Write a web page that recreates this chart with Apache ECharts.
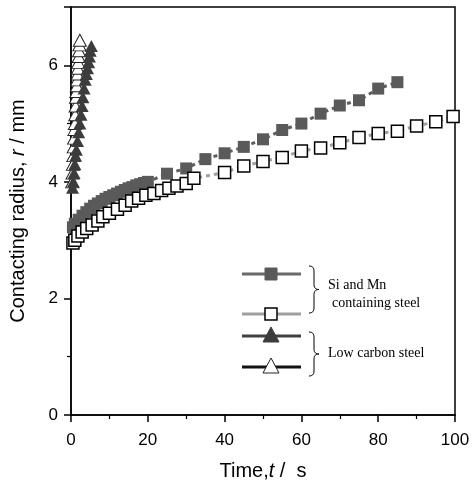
<!DOCTYPE html>
<html><head><meta charset="utf-8">
<script src="https://cdn.jsdelivr.net/npm/echarts@6/dist/echarts.min.js"></script>
<style>html,body{margin:0;padding:0;background:#fff}#c{width:473px;height:489px}</style>
</head><body><div id="c"></div>
<script>
// Si and Mn containing steel, filled squares
const siMnFilledT = [0.5,1,2,3,4,5,6,7,8,9,10,11,12,13,14,15,16,17,18,19,20,25,30,35,40,45,50,55,60,65,70,75,80,85];
const siMnFilledR = [3.22,3.28,3.35,3.42,3.48,3.54,3.59,3.63,3.67,3.71,3.74,3.77,3.80,3.83,3.86,3.89,3.91,3.94,3.96,3.98,4.00,4.14,4.23,4.39,4.49,4.60,4.73,4.89,5.00,5.17,5.31,5.40,5.60,5.71];
// Si and Mn containing steel, open squares
const siMnOpenT = [0.5,1,1.8,2.9,4.1,5.5,7,8.3,10,12.1,14.1,15.8,17.6,19.5,21.6,23.6,25.5,27.6,30,32,40,45,50,55,60,65,70,75,80,85,90,95,99.5];
const siMnOpenR = [2.95,3.00,3.07,3.14,3.20,3.26,3.33,3.40,3.46,3.53,3.60,3.67,3.72,3.77,3.80,3.85,3.89,3.93,3.97,4.06,4.16,4.27,4.35,4.42,4.53,4.58,4.67,4.76,4.83,4.87,4.96,5.03,5.12];
// Low carbon steel, filled triangles
const lowCFilledT = [0.4,0.6,0.8,1.0,1.2,1.4,1.7,2.0,2.3,2.6,2.9,3.1,3.4,3.7,4.0,4.3,4.6,4.8,5.0,5.3];
const lowCFilledR = [3.90,4.00,4.15,4.30,4.45,4.55,4.70,4.85,5.00,5.15,5.30,5.45,5.60,5.75,5.85,5.95,6.05,6.15,6.25,6.33];
// Low carbon steel, open triangles
const lowCOpenT = [0.3,0.4,0.5,0.6,0.7,0.8,0.9,1.0,1.1,1.2,1.3,1.4,1.5,1.6,1.7,1.8,1.9,2.0,2.1,2.2,2.3];
const lowCOpenR = [4.00,4.15,4.30,4.45,4.60,4.75,4.90,5.00,5.15,5.30,5.45,5.55,5.65,5.75,5.85,5.95,6.05,6.15,6.25,6.35,6.43];
const xTicks = [0,20,40,60,80,100];
const yTicks = [0,2,4,6];

const zip = (a,b)=>a.map((v,i)=>[v,b[i]]);
const chart = echarts.init(document.getElementById('c'));
const sans = 'Liberation Sans, Arial, sans-serif';
const serif = 'Liberation Serif, Times New Roman, serif';

function quad(p0,p1,p2,n){
  const out=[];
  for(let i=0;i<=n;i++){const t=i/n,u=1-t;
    out.push([u*u*p0[0]+2*u*t*p1[0]+t*t*p2[0], u*u*p0[1]+2*u*t*p1[1]+t*t*p2[1]]);}
  return out;
}
function brace(x, y0, y1){
  const ym=(y0+y1)/2;
  const pts=[].concat(
    quad([x,y0],[x+5,y0],[x+5,y0+5],8),
    [[x+5,ym-5]],
    quad([x+5,ym-5],[x+5,ym],[x+10,ym],6),
    quad([x+10,ym],[x+5,ym],[x+5,ym+5],6),
    [[x+5,y1-5]],
    quad([x+5,y1-5],[x+5,y1],[x,y1],8));
  return {type:'polyline',shape:{points:pts},style:{stroke:'#000',lineWidth:1,fill:null},z:100};
}
function legRow(y, color, sym){
  const els=[{type:'line',shape:{x1:242,y1:y,x2:301,y2:y},style:{stroke:color,lineWidth:3},z:100}];
  if(sym==='sqf') els.push({type:'rect',shape:{x:265,y:y-6,width:12,height:12},style:{fill:'#5a5a5a',stroke:'#5a5a5a'},z:101});
  if(sym==='sqo') els.push({type:'rect',shape:{x:265,y:y-6,width:12,height:12},style:{fill:'#fff',stroke:'#000',lineWidth:1.5},z:101});
  if(sym==='trf') els.push({type:'polygon',shape:{points:[[271,y-9],[263,y+6],[279,y+6]]},style:{fill:'#3c3c3c',stroke:'#3c3c3c'},z:101});
  if(sym==='tro') els.push({type:'polygon',shape:{points:[[271,y-9],[263,y+6],[279,y+6]]},style:{fill:'#fff',stroke:'#222',lineWidth:1},z:101});
  return els;
}

chart.setOption({
  animation:false,
  grid:{left:68,right:18,top:7,bottom:74,show:true,borderColor:'#000',borderWidth:1.5},
  xAxis:{type:'value',min:0,max:100,interval:20,
    name:'{n|Time,}{i|t}{n| /  s}',nameLocation:'middle',nameGap:46,
    nameTextStyle:{rich:{n:{fontSize:20,fontFamily:sans,color:'#000'},i:{fontSize:20,fontFamily:sans,fontStyle:'italic',color:'#000'}}},
    axisLine:{lineStyle:{color:'#000',width:1.5}},
    axisTick:{show:true,inside:false,length:7,lineStyle:{color:'#000',width:1.5}},
    minorTick:{show:true,splitNumber:2,length:4,lineStyle:{color:'#000',width:1.2}},
    splitLine:{show:false},
    axisLabel:{fontSize:17,fontFamily:sans,color:'#000',margin:17,
      formatter:v=>xTicks.includes(v)?String(v):''}
  },
  yAxis:{type:'value',min:0,max:7,interval:2,
    name:'{n|Contacting radius, }{i|r}{n| / mm}',nameLocation:'middle',nameGap:43,nameRotate:90,
    nameTextStyle:{rich:{n:{fontSize:20,fontFamily:sans,color:'#000'},i:{fontSize:20,fontFamily:sans,fontStyle:'italic',color:'#000'}}},
    axisLine:{lineStyle:{color:'#000',width:1.5}},
    axisTick:{show:true,inside:false,length:7,lineStyle:{color:'#000',width:1.5}},
    minorTick:{show:true,splitNumber:2,length:4,lineStyle:{color:'#000',width:1.2}},
    splitLine:{show:false},
    axisLabel:{fontSize:17,fontFamily:sans,color:'#000',margin:13,
      formatter:v=>yTicks.includes(v)?String(v):''}
  },
  series:[
    {type:'line',name:'SiMn filled',data:zip(siMnFilledT,siMnFilledR),symbol:'rect',symbolSize:12,
      itemStyle:{color:'#5a5a5a',borderColor:'#5a5a5a',borderWidth:0},
      lineStyle:{color:'#5e5e5e',width:3,type:[4,4]},z:2},
    {type:'line',name:'SiMn open',data:zip(siMnOpenT,siMnOpenR),symbol:'rect',symbolSize:12,
      itemStyle:{color:'#fff',borderColor:'#000',borderWidth:1.5},
      lineStyle:{color:'#a0a0a0',width:3,type:[4,4]},z:3},
    {type:'line',name:'LowC open',data:zip(lowCOpenT,lowCOpenR),symbol:'triangle',symbolSize:[13,12],
      itemStyle:{color:'#fff',borderColor:'#222',borderWidth:1},
      lineStyle:{color:'#222',width:1.5},z:4},
    {type:'line',name:'LowC filled',data:zip(lowCFilledT,lowCFilledR),symbol:'triangle',symbolSize:[13,12],
      itemStyle:{color:'#3c3c3c',borderColor:'#3c3c3c',borderWidth:0},
      lineStyle:{color:'#3c3c3c',width:1.5},z:5}
  ],
  graphic:[
    ...legRow(274,'#6a6a6a','sqf'),
    ...legRow(314,'#a0a0a0','sqo'),
    ...legRow(336,'#404040','trf'),
    ...legRow(367,'#111','tro'),
    brace(309,266,313),
    brace(309,332,376),
    {type:'text',left:328,top:278,style:{text:'Si and Mn',font:'14px '+serif,fill:'#000'},z:100},
    {type:'text',left:332,top:296,style:{text:'containing steel',font:'14px '+serif,fill:'#000'},z:100},
    {type:'text',left:328,top:346,style:{text:'Low carbon steel',font:'14px '+serif,fill:'#000'},z:100}
  ]
});
</script></body></html>
